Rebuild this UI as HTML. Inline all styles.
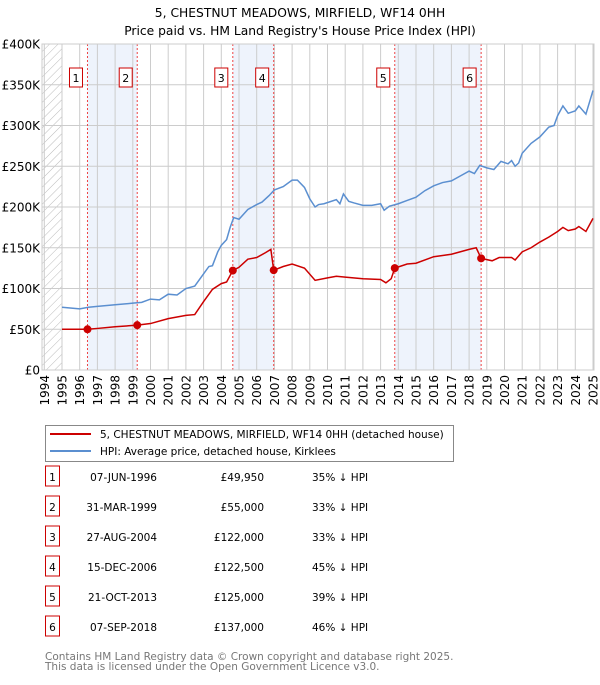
<!DOCTYPE html>
<html><head><meta charset="utf-8"><style>
body{margin:0;background:#fff;font-family:"Liberation Sans","DejaVu Sans",sans-serif;}
svg text{font-family:"DejaVu Sans","Liberation Sans",sans-serif;}
</style></head><body>
<svg width="600" height="680" viewBox="0 0 600 680" xmlns="http://www.w3.org/2000/svg">
<defs><pattern id="hatch" width="6" height="6" patternUnits="userSpaceOnUse" patternTransform="rotate(45)"><line x1="0" y1="0" x2="0" y2="6" stroke="#bbb" stroke-width="1"/></pattern></defs>
<text x="300" y="17" text-anchor="middle" font-size="12.3">5, CHESTNUT MEADOWS, MIRFIELD, WF14 0HH</text>
<text x="300" y="35" text-anchor="middle" font-size="12.3">Price paid vs. HM Land Registry's House Price Index (HPI)</text>
<g id="plot"></g>
<g>
<rect x="45.5" y="425.5" width="408" height="36" fill="#fff" stroke="#888"/>
<line x1="50" y1="434" x2="91" y2="434" stroke="#cc0000" stroke-width="2"/>
<text x="100" y="438" font-size="10.5">5, CHESTNUT MEADOWS, MIRFIELD, WF14 0HH (detached house)</text>
<line x1="50" y1="451" x2="91" y2="451" stroke="#5b8fd0" stroke-width="2"/>
<text x="100" y="455" font-size="10.5">HPI: Average price, detached house, Kirklees</text>
</g>
<g id="table"></g>
<text x="45" y="660" font-size="10.5" fill="#777">Contains HM Land Registry data © Crown copyright and database right 2025.</text>
<text x="45" y="670" font-size="10.5" fill="#777">This data is licensed under the Open Government Licence v3.0.</text>
</svg>
<script>
const hpiYears=[1995,1996,1996.5,1997,1998,1999,1999.5,2000,2000.5,2001,2001.5,2002,2002.5,2003,2003.3,2003.5,2003.8,2004,2004.3,2004.5,2004.7,2005,2005.5,2006,2006.3,2006.7,2007,2007.5,2008,2008.3,2008.7,2009,2009.3,2009.5,2009.8,2010.5,2010.7,2010.9,2011.2,2011.5,2012,2012.5,2013,2013.2,2013.5,2014,2014.5,2015,2015.5,2016,2016.5,2017,2017.5,2018,2018.3,2018.6,2019,2019.4,2019.8,2020.2,2020.4,2020.6,2020.8,2021,2021.5,2022,2022.5,2022.8,2023,2023.3,2023.6,2024,2024.2,2024.6,2025];
const hpiValues=[77,75,77,78,80,82,83,87,86,93,92,100,103,118,127,128,145,153,160,175,187,185,197,203,206,214,221,225,233,233,224,210,200,203,204,209,204,216,207,205,202,202,204,196,201,204,208,212,220,226,230,232,238,244,241,251,248,246,256,253,257,250,254,266,278,286,298,300,312,324,315,318,324,314,343];
const priceYears=[1995,1996.44,1997,1998,1999.25,2000,2001,2002,2002.5,2003,2003.5,2004,2004.3,2004.65,2005,2005.5,2006,2006.5,2006.8,2006.96,2007.5,2008,2008.7,2009.3,2010,2010.5,2011,2012,2013,2013.3,2013.6,2013.8,2014.5,2015,2016,2017,2018,2018.4,2018.68,2019.3,2019.7,2020.4,2020.6,2021,2021.5,2022,2022.5,2023,2023.3,2023.6,2024,2024.2,2024.6,2025];
const priceValues=[50,49.95,51,53,55,57,63,67,68,84,99,106,108,122,126,136,138,144,148,122.5,127,130,125,110,113,115,114,112,111,107,112,125,130,131,139,142,148,150,137,134,138,138,135,145,150,157,163,170,175,171,173,176,170,186];
const saleLabels=["1","2","3","4","5","6"];
const saleYears=[1996.44,1999.25,2004.65,2006.96,2013.8,2018.68];
const saleValues=[49.95,55,122,122.5,125,137];
const saleDates=["07-JUN-1996","31-MAR-1999","27-AUG-2004","15-DEC-2006","21-OCT-2013","07-SEP-2018"];
const salePrices=["£49,950","£55,000","£122,000","£122,500","£125,000","£137,000"];
const saleDiffs=["35% ↓ HPI","33% ↓ HPI","33% ↓ HPI","45% ↓ HPI","39% ↓ HPI","46% ↓ HPI"];
const yTicks=[0,50,100,150,200,250,300,350,400];
const yTickLabels=["£0","£50K","£100K","£150K","£200K","£250K","£300K","£350K","£400K"];
const xTicks=[1994,1995,1996,1997,1998,1999,2000,2001,2002,2003,2004,2005,2006,2007,2008,2009,2010,2011,2012,2013,2014,2015,2016,2017,2018,2019,2020,2021,2022,2023,2024,2025];

const NS="http://www.w3.org/2000/svg";
const X0=42,X1=594,Y0=370,Y1=44;
const xs=y=>62+(y-1995)*(593-62)/30;
const ys=v=>Y0-(v/400)*(Y0-Y1);
const plot=document.getElementById('plot');
function mk(tag,attrs,parent){const e=document.createElementNS(NS,tag);for(const k in attrs)e.setAttribute(k,attrs[k]);(parent||plot).appendChild(e);return e;}

const bg=mk('rect',{x:X0,y:Y1,width:X1-X0,height:Y0-Y1,fill:'#fff'});


const hz=mk('rect',{x:X0,y:Y1,width:xs(1995)-X0,height:Y0-Y1,fill:'url(#hatch)'});


for(let i=0;i<saleYears.length;i+=2){
  const r=mk('rect',{x:xs(saleYears[i]),y:Y1,width:xs(saleYears[i+1])-xs(saleYears[i]),height:Y0-Y1,fill:'#eef3fc'});
  
  
}
xTicks.forEach(t=>{
  const l=mk('line',{x1:xs(t),x2:xs(t),y1:Y1,y2:Y0,stroke:'#ccc','stroke-width':1});
  
  
  const tx=mk('text',{x:0,y:0,'font-size':12,'text-anchor':'end',transform:`translate(${xs(t)+4.5},${Y0+5}) rotate(-90)`});
  tx.textContent=t;
  
  
});
yTicks.forEach((t,i)=>{
  const l=mk('line',{x1:X0,x2:X1,y1:ys(t),y2:ys(t),stroke:'#ccc','stroke-width':1});
  
  
  const tx=mk('text',{x:40,y:ys(t)+4.5,'font-size':12,'text-anchor':'end'});
  tx.textContent=yTickLabels[i];
  
  
});
saleYears.forEach(y=>{
  const l=mk('line',{x1:xs(y),x2:xs(y),y1:Y1,y2:Y0,stroke:'#e44','stroke-width':1,'stroke-dasharray':'2,2'});
  
  
});
const hp=mk('polyline',{points:hpiYears.map((y,i)=>xs(y)+','+ys(hpiValues[i])).join(' '),fill:'none',stroke:'#5b8fd0','stroke-width':1.5});


const pp=mk('polyline',{points:priceYears.map((y,i)=>xs(y)+','+ys(priceValues[i])).join(' '),fill:'none',stroke:'#cc0000','stroke-width':1.5});


saleYears.forEach((y,i)=>{
  const c=mk('circle',{cx:xs(y),cy:ys(saleValues[i]),r:4,fill:'#cc0000'});
  
  
  const bx=xs(y)-4-14;
  const g=mk('g',{});
  
  
  mk('rect',{x:bx,y:68,width:13,height:19,fill:'#fff',stroke:'#cc0000'},g);
  const t=mk('text',{x:bx+6.5,y:82,'font-size':11,'text-anchor':'middle'},g);
  t.textContent=saleLabels[i];
});
const fr=mk('rect',{x:X0,y:Y1,width:X1-X0,height:Y0-Y1,fill:'none',stroke:'#ccc'});



const tb=document.getElementById('table');
saleLabels.forEach((lab,i)=>{
  const cy=483+i*30;
  const g=mk('g',{},tb);
  
  
  mk('rect',{x:45.5,y:cy-17,width:14,height:20,fill:'#fff',stroke:'#cc0000'},g);
  const a=mk('text',{x:52.5,y:cy-2,'font-size':10.5,'text-anchor':'middle'},g);a.textContent=lab;
  const d=mk('text',{x:157,y:cy-2,'font-size':10.5,'text-anchor':'end'},g);d.textContent=saleDates[i];
  const p=mk('text',{x:264,y:cy-2,'font-size':10.5,'text-anchor':'end'},g);p.textContent=salePrices[i];
  const h=mk('text',{x:312,y:cy-2,'font-size':10.5},g);h.textContent=saleDiffs[i];
});
</script>
</body></html>
